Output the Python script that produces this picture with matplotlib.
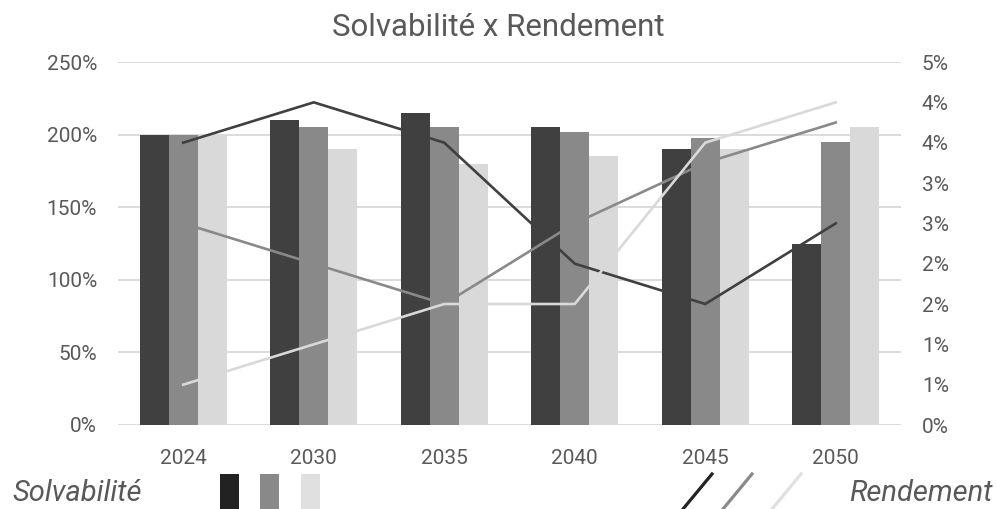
import matplotlib
matplotlib.use("Agg")
import matplotlib.pyplot as plt
from matplotlib.patches import Rectangle
from matplotlib.lines import Line2D
import numpy as np

plt.rcParams['font.family'] = ['Roboto', 'DejaVu Sans']

# ---- data ----
years = ["2024", "2030", "2035", "2040", "2045", "2050"]
solv_dark = [200, 210, 215, 205, 190, 125]
solv_mid = [200, 205, 205, 202, 198, 195]
solv_light = [200, 190, 180, 185, 190, 205]
rend_dark = [3.5, 4.0, 3.5, 2.0, 1.5, 2.5]
rend_mid = [2.5, 2.0, 1.5, 2.5, 3.25, 3.75]
rend_light = [0.5, 1.0, 1.5, 1.5, 3.5, 4.0]
left_ticks = [0, 50, 100, 150, 200, 250]
left_labels = ["0%", "50%", "100%", "150%", "200%", "250%"]
right_ticks = [0, 0.5, 1.0, 1.5, 2.0, 2.5, 3.0, 3.5, 4.0, 4.5]
right_labels = ["0%", "1%", "1%", "2%", "2%", "3%", "3%", "4%", "4%", "5%"]
title = "Solvabilité x Rendement"
legend_left = "Solvabilité"
legend_right = "Rendement"

# ---- style ----
bar_colors = ["#404040", "#898989", "#d9d9d9"]
line_colors = ["#404040", "#898989", "#d9d9d9"]
leg_colors = ["#222222", "#898989", "#e0e0e0"]
text_color = "#595959"
grid_color = "#d9d9d9"

W, H = 997, 509
fig = plt.figure(figsize=(W / 100, H / 100), dpi=100)
ax = fig.add_axes([118 / W, 1 - 425 / H, (901 - 118) / W, (425 - 62) / H])
ax2 = ax.twinx()

x = np.arange(len(years))
bw = 0.222
for i, vals in enumerate([solv_dark, solv_mid, solv_light]):
    ax.bar(x + (i - 1) * bw, vals, width=bw, color=bar_colors[i], zorder=2, linewidth=0)

ax.set_xlim(-0.5, len(years) - 0.5)
ax.set_ylim(0, 250)
ax.set_yticks(left_ticks)
ax.set_yticklabels(left_labels)
ax.set_xticks(x)
ax.set_xticklabels(years)
ax.grid(axis='y', color=grid_color, linewidth=1.3, zorder=0)
ax.set_axisbelow(True)
for s in ax.spines.values():
    s.set_visible(False)
ax.tick_params(axis='both', length=0, labelsize=15, labelcolor=text_color)
ax.tick_params(axis='y', pad=15)
ax.tick_params(axis='x', pad=17)

for i, vals in enumerate([rend_dark, rend_mid, rend_light]):
    ax2.plot(x, vals, color=line_colors[i], linewidth=1.9, zorder=3 + i,
             solid_joinstyle='miter')
ax2.set_ylim(0, 4.5)
ax2.set_yticks(right_ticks)
ax2.set_yticklabels(right_labels)
for s in ax2.spines.values():
    s.set_visible(False)
ax2.tick_params(axis='y', length=0, labelsize=15, labelcolor=text_color, pad=15)

fig.text(0.5, 1 - 27 / H, title, ha='center', va='center', fontsize=22.5, color=text_color)

# ---- legend (decorative, figure pixel coords) ----
def fx(px):
    return px / W

def fy(py):
    return 1 - py / H

fig.text(fx(12), fy(501), legend_left, ha='left', va='baseline', fontsize=21,
         style='italic', color=text_color)
for i, left in enumerate([220, 260, 301]):
    fig.add_artist(Rectangle((fx(left), fy(509)), fx(19), (509 - 474) / H,
                             transform=fig.transFigure, color=leg_colors[i], linewidth=0))
for i, x0 in enumerate([683, 723, 772]):
    fig.add_artist(Line2D([fx(x0), fx(x0 + 29)], [fy(509), fy(474)],
                          transform=fig.transFigure, color=leg_colors[i], linewidth=2.3))
fig.text(fx(993), fy(501), legend_right, ha='right', va='baseline', fontsize=21,
         style='italic', color=text_color)

fig.savefig("out.png", dpi=100)
